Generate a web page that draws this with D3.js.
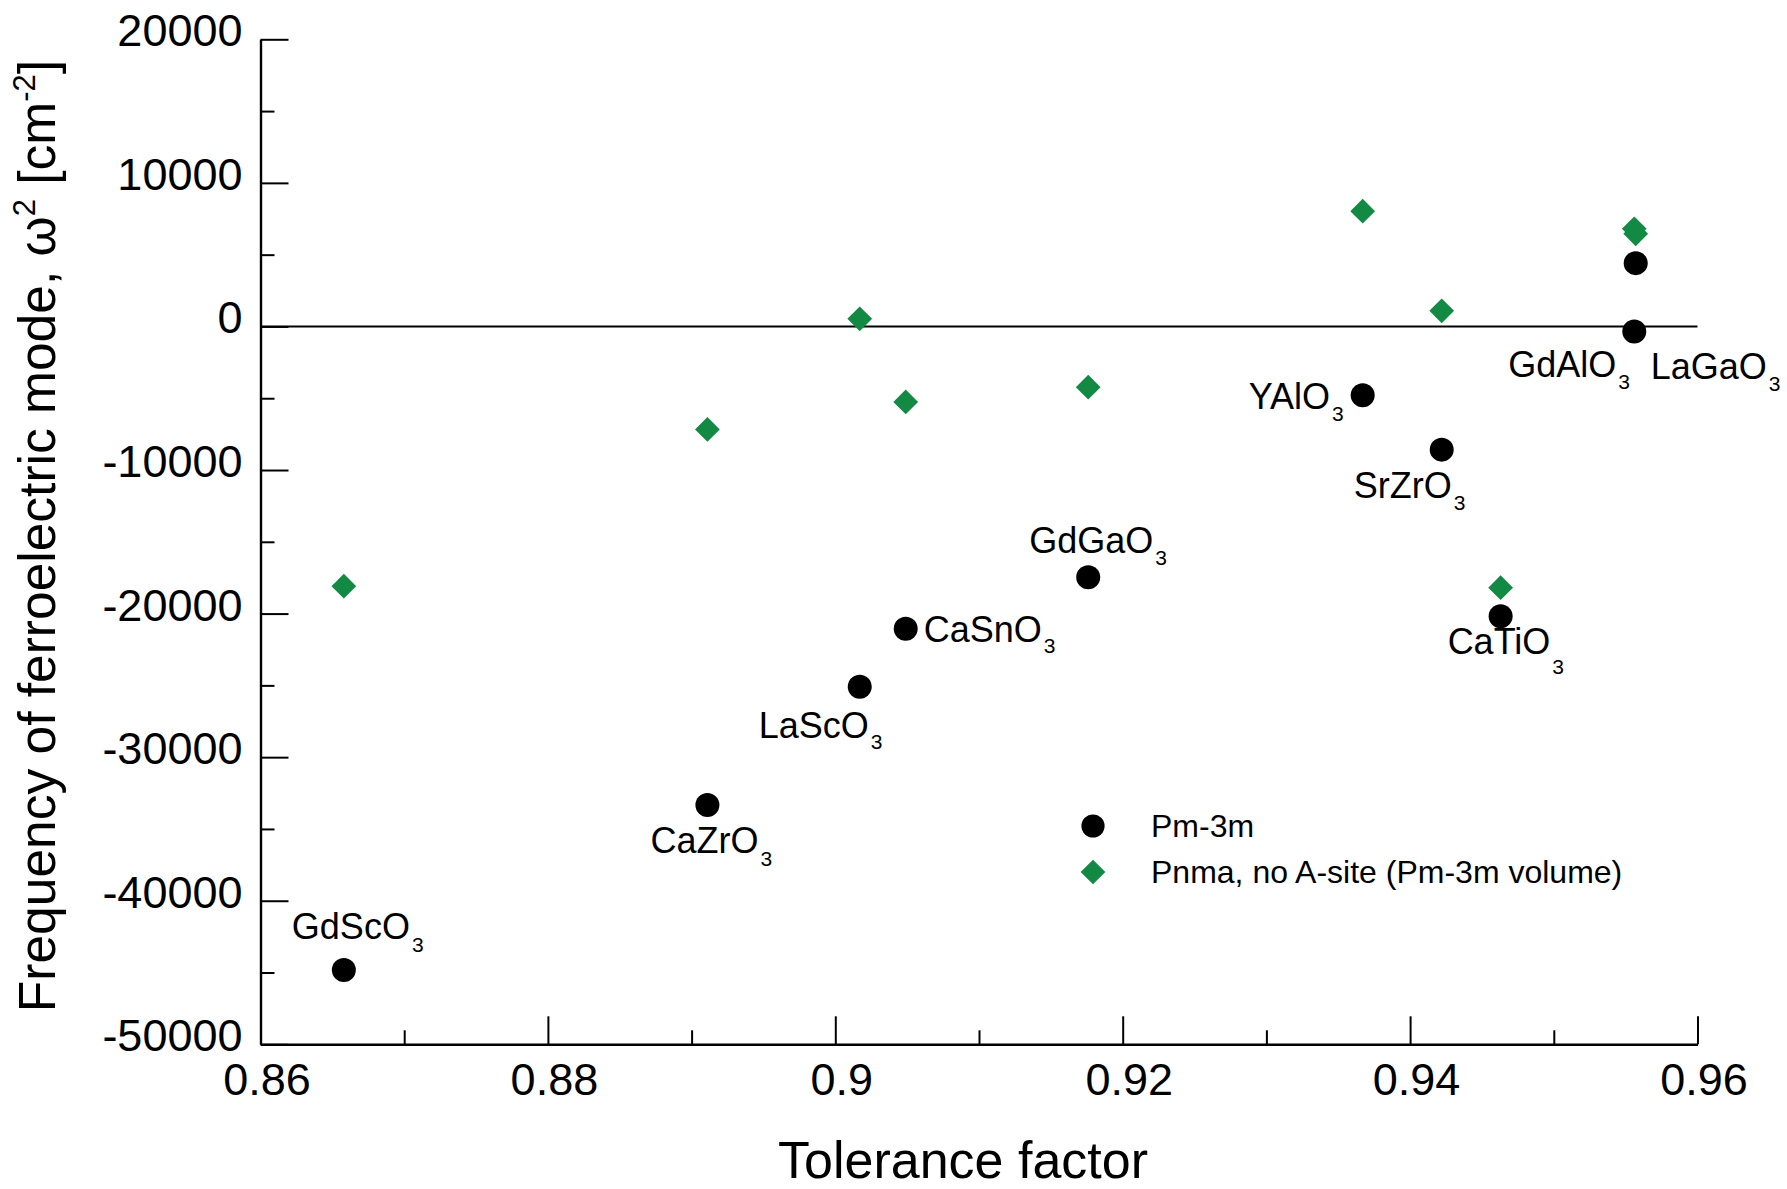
<!DOCTYPE html>
<html>
<head>
<meta charset="utf-8">
<script src="https://cdn.jsdelivr.net/npm/d3@7"></script>
<style>
  html, body { margin: 0; padding: 0; background: #fff; }
  svg { display: block; font-family: "Liberation Sans", Arial, Helvetica, sans-serif; }
</style>
</head>
<body>
<svg id="chart" width="1787" height="1189"></svg>
<script>
// ---------------- DATA ----------------
const compounds = ["GdScO3", "CaZrO3", "LaScO3", "CaSnO3", "GdGaO3", "YAlO3", "SrZrO3", "CaTiO3", "GdAlO3", "LaGaO3"];
const tolerance = [0.8658, 0.8911, 0.9017, 0.9049, 0.9176, 0.9367, 0.9422, 0.9463, 0.9556, 0.9557];
const pm3mValues = [-44820, -33330, -25090, -21060, -17470, -4800, -8580, -20180, -350, 4410];
const pnmaValues = [-18090, -7170, 530, -5260, -4230, 8030, 1090, -18200, 6800, 6450];
const seriesNames = ["Pm-3m", "Pnma, no A-site (Pm-3m volume)"];
const xMajorTicks = [0.86, 0.88, 0.9, 0.92, 0.94, 0.96];
const xMinorTicks = [0.87, 0.89, 0.91, 0.93, 0.95];
const xTickLabels = ["0.86", "0.88", "0.9", "0.92", "0.94", "0.96"];
const yMajorTicks = [-50000, -40000, -30000, -20000, -10000, 0, 10000, 20000];
const yMinorTicks = [-45000, -35000, -25000, -15000, -5000, 5000, 15000];
const yTickLabels = ["-50000", "-40000", "-30000", "-20000", "-10000", "0", "10000", "20000"];
const xTitle = "Tolerance factor";

// ---------------- LAYOUT ----------------
// label offsets (px) from the Pm-3m marker: [dx to text start, dy to baseline]
const labelOffsets = [[-52, -31], [-57, 48], [-101, 51], [18, 13], [-59, -24], [-114, 14], [-88, 48], [-53, 38], [-126, 46], [15, 116]];
// subscript drop below the baseline (px)
const subDrops = [13, 13, 11, 11, 12, 12, 12, 20, 12, 12];
const green = "#138a44";
const plotLeft = 260.5, plotRight = 1697.5, plotTop = 39.3, plotBottom = 1044.3;

const svg = d3.select("#chart");
const x = d3.scaleLinear().domain([0.86, 0.96]).range([plotLeft, plotRight]);
const y = d3.scaleLinear().domain([-50000, 20000]).range([plotBottom, plotTop]);

// Axes
const axisStyle = g => {
  g.select(".domain").attr("stroke", "#000").attr("stroke-width", 2.4);
  g.selectAll(".tick line").attr("stroke", "#000").attr("stroke-width", 2);
};

// x minor
svg.append("g").attr("transform", `translate(0,${plotBottom})`)
  .call(d3.axisBottom(x).tickValues(xMinorTicks).tickSize(-14).tickSizeOuter(0).tickFormat(""))
  .call(g => { g.select(".domain").remove(); g.selectAll(".tick line").attr("stroke", "#000").attr("stroke-width", 2); });
// x major
const gx = svg.append("g").attr("transform", `translate(0,${plotBottom})`)
  .call(d3.axisBottom(x).tickValues(xMajorTicks).tickSize(-28).tickSizeOuter(0)
    .tickFormat((d, i) => xTickLabels[i]))
  .call(axisStyle);
gx.selectAll(".tick text")
  .attr("y", 51).attr("dy", 0).attr("dx", 6)
  .attr("font-size", 45).attr("fill", "#000")
  .attr("font-family", "'Liberation Sans', Arial, sans-serif");

// y minor
svg.append("g").attr("transform", `translate(${plotLeft},0)`)
  .call(d3.axisLeft(y).tickValues(yMinorTicks).tickSize(-14).tickSizeOuter(0).tickFormat(""))
  .call(g => { g.select(".domain").remove(); g.selectAll(".tick line").attr("stroke", "#000").attr("stroke-width", 2); });
// y major
const gy = svg.append("g").attr("transform", `translate(${plotLeft},0)`)
  .call(d3.axisLeft(y).tickValues(yMajorTicks).tickSize(-28).tickSizeOuter(0)
    .tickFormat((d, i) => yTickLabels[i]))
  .call(axisStyle);
gy.selectAll(".tick text")
  .attr("x", -18).attr("dy", 0).attr("y", 6.5)
  .attr("font-size", 45).attr("fill", "#000")
  .attr("font-family", "'Liberation Sans', Arial, sans-serif");

// zero line
svg.append("line")
  .attr("x1", x(0.86)).attr("x2", x(0.96))
  .attr("y1", y(0)).attr("y2", y(0))
  .attr("stroke", "#000").attr("stroke-width", 2);

// Axis titles
svg.append("text")
  .attr("x", 963).attr("y", 1178)
  .attr("text-anchor", "middle").attr("font-size", 52).attr("fill", "#000")
  .text(xTitle);

const yt = svg.append("text")
  .attr("transform", "translate(55,536) rotate(-90)")
  .attr("text-anchor", "middle").attr("font-size", 51.5).attr("fill", "#000");
yt.append("tspan").text("Frequency of ferroelectric mode, \u03c9");
yt.append("tspan").attr("font-size", 31).attr("dy", -20).text("2");
yt.append("tspan").attr("dy", 20).text(" [cm");
yt.append("tspan").attr("font-size", 31).attr("dy", -20).text("-2");
yt.append("tspan").attr("dy", 20).text("]");

// Markers
const diamond = d3.symbol().type(d3.symbolSquare).size(17.5 * 17.5);
const idx = d3.range(compounds.length);

svg.append("g").selectAll("path").data(idx).join("path")
  .attr("d", diamond)
  .attr("transform", i => `translate(${x(tolerance[i])},${y(pnmaValues[i])}) rotate(45)`)
  .attr("fill", green);

svg.append("g").selectAll("circle").data(idx).join("circle")
  .attr("cx", i => x(tolerance[i])).attr("cy", i => y(pm3mValues[i]))
  .attr("r", 12).attr("fill", "#000");

// Labels with subscript 3
const labels = svg.append("g").selectAll("text").data(idx).join("text")
  .attr("x", i => x(tolerance[i]) + labelOffsets[i][0])
  .attr("y", i => y(pm3mValues[i]) + labelOffsets[i][1])
  .attr("font-size", 36).attr("fill", "#000");
labels.append("tspan").text(i => compounds[i].slice(0, -1));
labels.append("tspan").attr("font-size", 21).attr("dx", 2).attr("dy", i => subDrops[i]).text(i => compounds[i].slice(-1));

// Legend
const lg = svg.append("g");
lg.append("circle").attr("cx", 1093).attr("cy", 826).attr("r", 11.6).attr("fill", "#000");
lg.append("path").attr("d", diamond).attr("transform", "translate(1093,872) rotate(45)").attr("fill", green);
lg.append("text").attr("x", 1151).attr("y", 837).attr("font-size", 32).attr("fill", "#000").text(seriesNames[0]);
lg.append("text").attr("x", 1151).attr("y", 883).attr("font-size", 32).attr("fill", "#000").text(seriesNames[1]);
</script>
</body>
</html>
